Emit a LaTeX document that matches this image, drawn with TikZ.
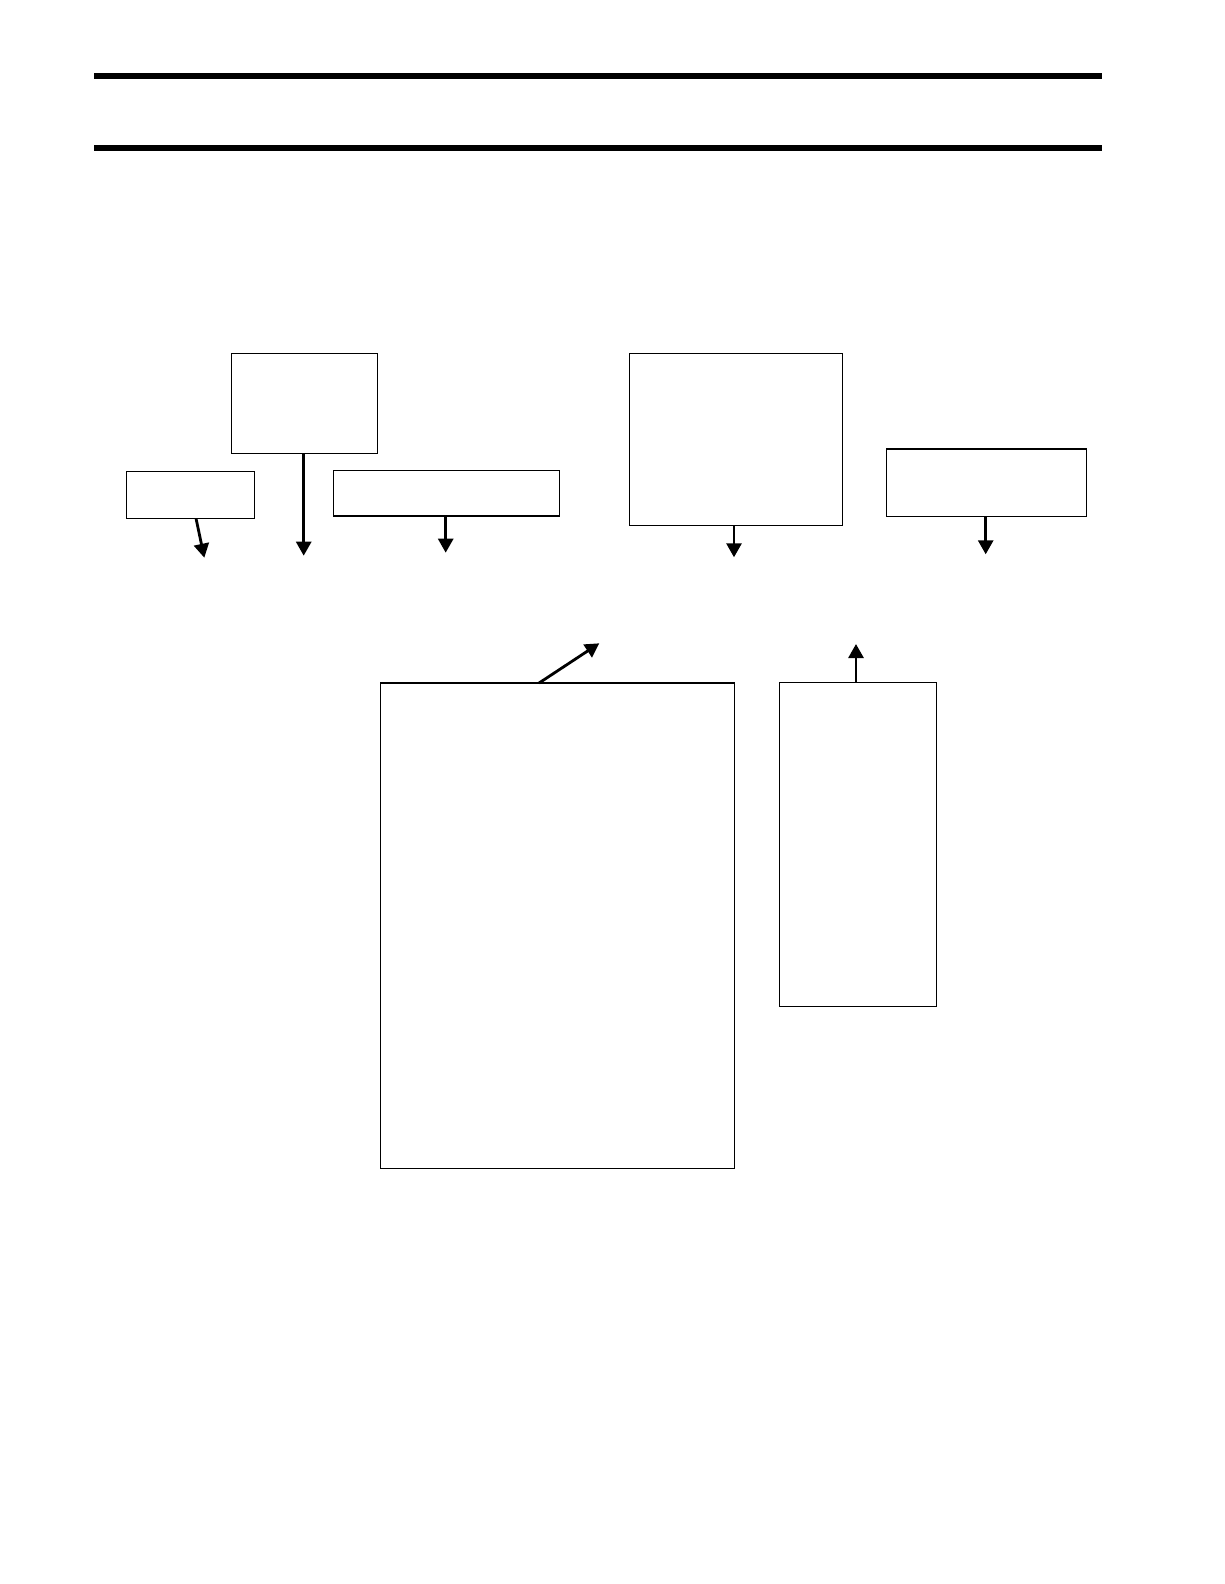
\documentclass[tikz,border=0pt]{standalone}
\usetikzlibrary{arrows.meta,calc}
\begin{document}
\begin{tikzpicture}[x=1pt,y=-1pt,
  box/.style={draw=black,line width=1.5pt,inner sep=0pt,outer sep=0pt,fill=white},
  conn/.style={line width=2.8pt,-{Triangle[width=15pt,length=14pt]}},
  rule/.style={line width=6pt}]
\useasboundingbox[fill=white] (0,0) rectangle (1224,1584);
\coordinate (r1a) at (94,76); \coordinate (r1b) at (1102,76);
\coordinate (r2a) at (94,148); \coordinate (r2b) at (1102,148);
\draw[rule] (r1a) -- (r1b);
\draw[rule] (r2a) -- (r2b);
% boxes: center (x,y), size
\node[box,minimum width=145.6pt,minimum height=100pt] (A) at (304.5,403.3) {};
\node[box,minimum width=128pt,minimum height=46.6pt] (B) at (190.3,495) {};
\node[box,minimum width=226pt,minimum height=45.7pt] (C) at (446.3,493.2) {};
\node[box,minimum width=213pt,minimum height=172pt] (D) at (735.8,439.3) {};
\node[box,minimum width=200.4pt,minimum height=67.3pt] (E) at (986.5,482.7) {};
\node[box,minimum width=353.6pt,minimum height=485.3pt] (F) at (557.5,925.7) {};
\node[box,minimum width=157pt,minimum height=324pt] (G) at (857.8,844.3) {};
% arrow ends
\coordinate (a1) at (303.7,555.7);
\coordinate (b0) at ($(B.south)+(5.7,0)$);
\coordinate (b1) at (204.3,557.7);
\coordinate (c1) at (445.7,552.7);
\coordinate (d1) at (734,557.3);
\coordinate (e1) at (985.7,554.3);
\coordinate (f0) at ($(F.north)+(-18.5,0)$);
\coordinate (f1) at (599.3,643.3);
\coordinate (g1) at (856,644);
\draw[conn] (A.south -| a1) -- (a1);
\draw[conn] (b0) -- (b1);
\draw[conn] (C.south -| c1) -- (c1);
\draw[conn] (D.south -| d1) -- (d1);
\draw[conn] (E.south -| e1) -- (e1);
\draw[conn] (f0) -- (f1);
\draw[conn] (G.north -| g1) -- (g1);
\end{tikzpicture}
\end{document}
